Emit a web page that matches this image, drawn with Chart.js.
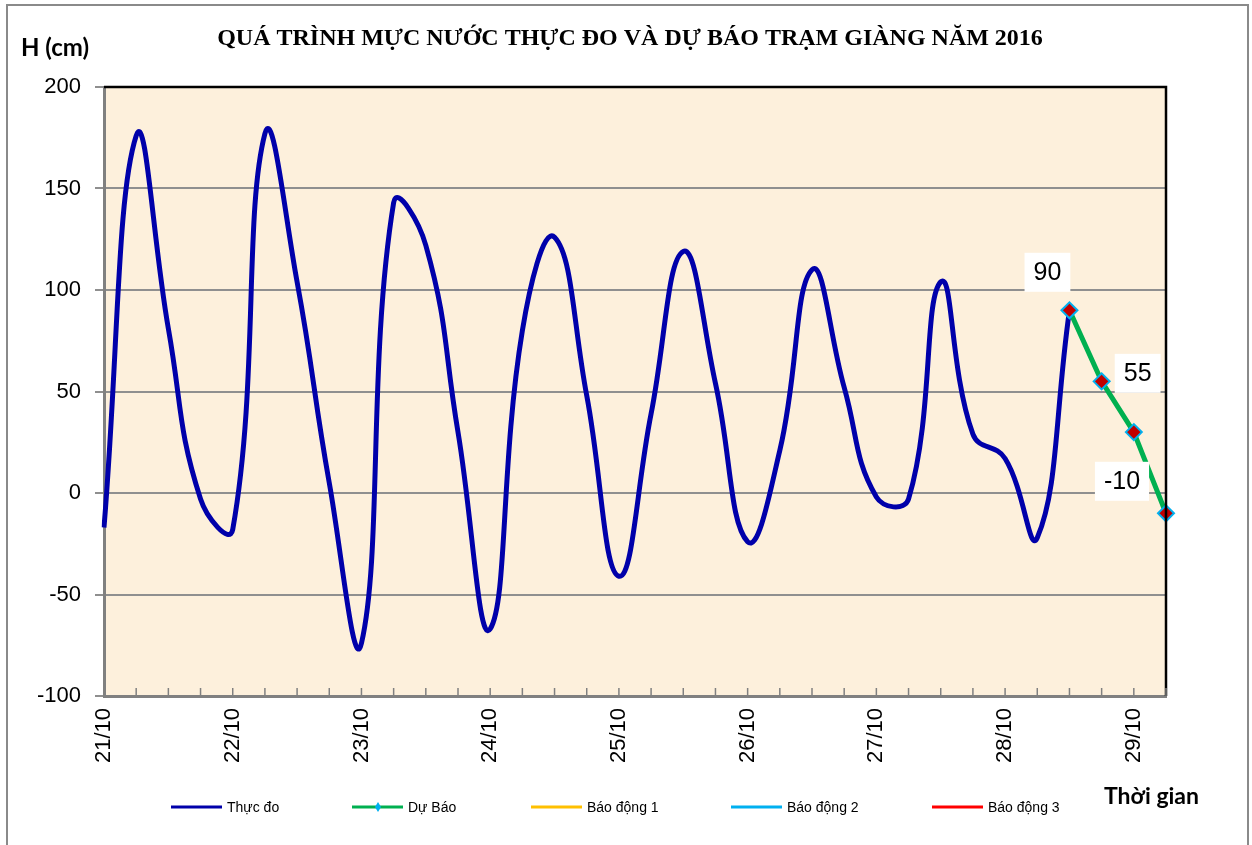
<!DOCTYPE html>
<html>
<head>
<meta charset="utf-8">
<script src="https://cdn.jsdelivr.net/npm/chart.js@4/dist/chart.umd.min.js"></script>
<style>
html,body{margin:0;padding:0;background:#fff;}
#wrap{width:1252px;height:845px;position:relative;}
canvas{display:block;}
</style>
</head>
<body>
<div id="wrap"><canvas id="c" width="1252" height="845"></canvas></div>
<script>
// ---- DATA ----
const chartTitle = 'QUÁ TRÌNH MỰC NƯỚC THỰC ĐO VÀ DỰ BÁO TRẠM GIÀNG NĂM 2016';
const yAxisTitle = 'H (cm)';
const xAxisTitle = 'Thời gian';
const timeLabels = [
  '21/10 00h','21/10 06h','21/10 12h','21/10 18h',
  '22/10 00h','22/10 06h','22/10 12h','22/10 18h',
  '23/10 00h','23/10 06h','23/10 12h','23/10 18h',
  '24/10 00h','24/10 06h','24/10 12h','24/10 18h',
  '25/10 00h','25/10 06h','25/10 12h','25/10 18h',
  '26/10 00h','26/10 06h','26/10 12h','26/10 18h',
  '27/10 00h','27/10 06h','27/10 12h','27/10 18h',
  '28/10 00h','28/10 06h','28/10 12h','28/10 18h',
  '29/10 00h','29/10 06h'
];
const dayTickLabels = ['21/10','22/10','23/10','24/10','25/10','26/10','27/10','28/10','29/10'];
const observed = [
  -17, 176, 81, -3,
  -18, 177, 104, 5,
  -74, 143, 122, 30,
  -67, 80, 126, 48,
  -41, 39, 119, 54,
  -24, 21, 110, 52,
  -2, -3, 104, 29,
  17, -22, 90, null,
  null, null
];
const forecast = [
  null,null,null,null, null,null,null,null, null,null,null,null,
  null,null,null,null, null,null,null,null, null,null,null,null,
  null,null,null,null, null,null, 90, 55, 30, -10
];
const forecastLabels = [
  '','','','', '','','','', '','','','',
  '','','','', '','','','', '','','','',
  '','','','', '','', '90','55','','-10'
];
const alarm1 = [];
const alarm2 = [];
const alarm3 = [];
const seriesNames = ['Thực đo','Dự Báo','Báo động 1','Báo động 2','Báo động 3'];
const yTicks = { min: -100, max: 200, step: 50 };

// ---- STYLE ----
const plotBg = '#FDF0DC';
const labelOffsets = { 30: [-22, -38], 31: [36, -8], 33: [-44, -32] };
const legendX = [171, 352, 531, 731, 932];

const decor = {
  id: 'decor',
  beforeDraw(chart) {
    const ctx = chart.ctx, a = chart.chartArea;
    ctx.save();
    ctx.fillStyle = '#fff';
    ctx.fillRect(0, 0, chart.width, chart.height);
    ctx.strokeStyle = '#8a8a8a';
    ctx.lineWidth = 2;
    ctx.strokeRect(7, 5, 1241, 850);
    ctx.fillStyle = plotBg;
    ctx.fillRect(a.left, a.top, a.right - a.left, a.bottom - a.top);
    ctx.restore();
  },
  afterDatasetsDraw(chart) {
    const ctx = chart.ctx, a = chart.chartArea;
    const xs = chart.scales.x;
    ctx.save();
    ctx.strokeStyle = '#000';
    ctx.lineWidth = 2.5;
    ctx.beginPath();
    ctx.moveTo(a.left, a.top); ctx.lineTo(a.right, a.top); ctx.lineTo(a.right, a.bottom);
    ctx.stroke();
    ctx.strokeStyle = '#808080';
    ctx.lineWidth = 1.5;
    for (let i = 0; i < timeLabels.length; i++) {
      const px = xs.getPixelForValue(i);
      ctx.beginPath();
      ctx.moveTo(px, a.bottom);
      ctx.lineTo(px, a.bottom - 8);
      ctx.stroke();
    }
    const meta = chart.getDatasetMeta(1);
    ctx.font = '25px "Liberation Sans", Arial, sans-serif';
    ctx.textAlign = 'center';
    ctx.textBaseline = 'middle';
    forecastLabels.forEach((t, i) => {
      if (!t) return;
      const pt = meta.data[i];
      const off = labelOffsets[i] || [0, -30];
      const cx = pt.x + off[0], cy = pt.y + off[1];
      const w = ctx.measureText(t).width + 18, h = 39;
      ctx.fillStyle = '#fff';
      ctx.fillRect(cx - w / 2, cy - h / 2, w, h);
      ctx.fillStyle = '#000';
      ctx.fillText(t, cx, cy + 1);
    });
    ctx.restore();
  },
  afterDraw(chart) {
    const ctx = chart.ctx;
    ctx.save();
    ctx.fillStyle = '#000';
    ctx.textAlign = 'center';
    ctx.textBaseline = 'middle';
    ctx.font = 'bold 24px "Liberation Serif", "Times New Roman", serif';
    ctx.fillText(chartTitle, 630, 39, 826);
    ctx.textAlign = 'left';
    ctx.font = 'bold 24px Lato, "Open Sans", sans-serif';
    ctx.fillText(yAxisTitle, 21, 48, 78);
    ctx.font = 'bold 23px Lato, "Open Sans", sans-serif';
    ctx.fillText(xAxisTitle, 1104, 797, 116);
    const ly = 807;
    ctx.font = '14px "Liberation Sans", Arial, sans-serif';
    chart.data.datasets.forEach((ds, k) => {
      const x0 = legendX[k];
      ctx.strokeStyle = ds.borderColor;
      ctx.lineWidth = 3;
      ctx.beginPath();
      ctx.moveTo(x0, ly); ctx.lineTo(x0 + 51, ly);
      ctx.stroke();
      if (k === 1) {
        ctx.fillStyle = '#00B0F0';
        ctx.beginPath();
        ctx.moveTo(x0 + 26, ly - 5); ctx.lineTo(x0 + 29, ly); ctx.lineTo(x0 + 26, ly + 5); ctx.lineTo(x0 + 23, ly);
        ctx.closePath(); ctx.fill();
      }
      ctx.fillStyle = '#000';
      ctx.fillText(ds.label, x0 + 56, ly + 1);
    });
    ctx.restore();
  }
};

new Chart(document.getElementById('c'), {
  type: 'line',
  data: {
    labels: timeLabels,
    datasets: [
      { label: seriesNames[0], data: observed, borderColor: '#0000AA', borderWidth: 5, tension: 0.45,
        pointRadius: 0, spanGaps: false, order: 1 },
      { label: seriesNames[1], data: forecast, borderColor: '#00B050', borderWidth: 5, tension: 0,
        pointStyle: 'rectRot', pointRadius: 8, pointBackgroundColor: '#C00000',
        pointBorderColor: '#00B0F0', pointBorderWidth: 2, order: 0 },
      { label: seriesNames[2], data: alarm1, borderColor: '#FFC000', borderWidth: 3, pointRadius: 0 },
      { label: seriesNames[3], data: alarm2, borderColor: '#00B0F0', borderWidth: 3, pointRadius: 0 },
      { label: seriesNames[4], data: alarm3, borderColor: '#FF0000', borderWidth: 3, pointRadius: 0 }
    ]
  },
  options: {
    responsive: false,
    animation: false,
    devicePixelRatio: 1,
    layout: { padding: { left: 8, top: 87, right: 86, bottom: 49 } },
    plugins: { legend: { display: false }, tooltip: { enabled: false }, title: { display: false } },
    scales: {
      x: {
        type: 'category',
        offset: false,
        afterFit(s) { s.height = 100; },
        grid: { display: true, drawOnChartArea: false, drawTicks: false, tickLength: 0 },
        border: { display: true, color: '#808080', width: 3 },
        ticks: {
          autoSkip: false, maxRotation: 90, minRotation: 90, padding: 12,
          color: '#000',
          font: { family: '"Liberation Sans", Arial, sans-serif', size: 22 },
          callback(v, i) {
            const d = timeLabels[i].slice(0, 5);
            return (timeLabels[i].endsWith('00h') && dayTickLabels.includes(d)) ? d : '';
          }
        }
      },
      y: {
        min: yTicks.min, max: yTicks.max,
        afterFit(s) { s.width = 96; },
        grid: { color: '#8F8F8F', lineWidth: 2, tickLength: 9, drawTicks: true },
        border: { display: true, color: '#808080', width: 3 },
        ticks: {
          stepSize: yTicks.step, padding: 14, color: '#000',
          font: { family: '"Liberation Sans", Arial, sans-serif', size: 22 }
        }
      }
    }
  },
  plugins: [decor]
});
</script>
</body>
</html>
